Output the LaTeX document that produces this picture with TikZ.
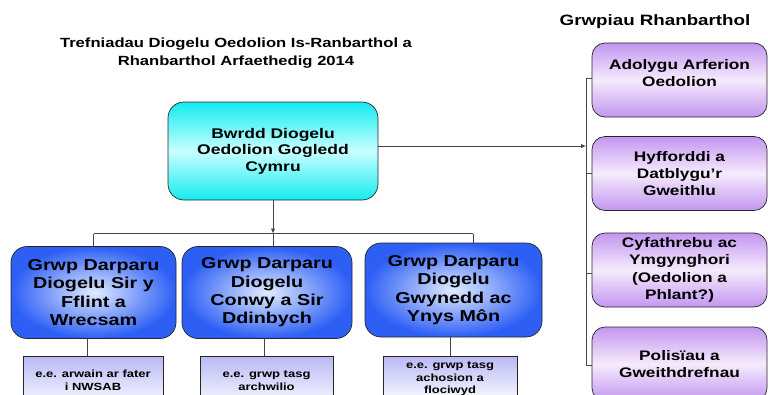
\documentclass[tikz,border=0pt]{standalone}
\usepackage{fontspec}
\setmainfont[FakeStretch=1.25]{Liberation Sans}
\usetikzlibrary{arrows.meta}
\definecolor{cyanA}{RGB}{20,235,240}
\definecolor{cyanB}{RGB}{200,255,255}
\definecolor{blueA}{RGB}{45,95,245}
\definecolor{blueB}{RGB}{225,235,255}
\definecolor{purA}{RGB}{195,150,240}
\definecolor{purB}{RGB}{245,235,252}
\definecolor{lavA}{RGB}{185,185,245}
\definecolor{lavB}{RGB}{245,245,255}
\definecolor{linegray}{RGB}{70,70,70}
\tikzset{
  boxline/.style={draw=black!85, line width=0.7pt},
  topbox/.style={boxline, rounded corners=16pt, top color=cyanA, bottom color=cyanA, middle color=cyanB,
    minimum width=210pt, minimum height=98pt, align=center,
    font=\bfseries\fontsize{14}{16.5}\selectfont},
  bluebox/.style={boxline, rounded corners=16pt, inner color=blueB, outer color=blueA,
    minimum height=92pt, align=center,
    font=\bfseries\fontsize{15.8}{18.3}\selectfont},
  purbox/.style={boxline, rounded corners=13pt, top color=purA, bottom color=purA, middle color=purB,
    minimum width=175pt, minimum height=74pt, align=center,
    font=\bfseries\fontsize{13.8}{17.3}\selectfont},
  smallbox/.style={boxline, top color=lavA, bottom color=lavB,
    minimum height=46pt, align=center, anchor=north, text depth=0pt,
    font=\bfseries\fontsize{10.4}{13}\selectfont},
  conn/.style={draw=linegray, line width=0.8pt},
  arr/.style={conn, -{Latex[length=5pt,width=4.5pt]}},
  titletext/.style={align=center, font=\bfseries\fontsize{13.3}{18}\selectfont},
}
\begin{document}
\begin{tikzpicture}[x=1pt,y=-1pt]
\useasboundingbox[fill=white] (0,0) rectangle (768,394);

% titles
\node[titletext] (title) at (236,53) {Trefniadau Diogelu Oedolion Is-Ranbarthol a\\Rhanbarthol Arfaethedig 2014};
\node[titletext, font=\bfseries\fontsize{15}{18}\selectfont] (rtitle) at (655,22) {Grwpiau Rhanbarthol};

% top box
\node[topbox] (top) at (273,151) {Bwrdd Diogelu\\Oedolion Gogledd\\Cymru};

% blue boxes
\node[bluebox, minimum width=165pt] (A) at (93.5,292.5) {Grwp Darparu\\Diogelu Sir y\\Fflint a\\Wrecsam};
\node[bluebox, minimum width=170pt] (B) at (267,292.5) {Grwp Darparu\\Diogelu\\Conwy a Sir\\Ddinbych};
\node[bluebox, minimum width=177pt, minimum height=94pt] (C) at (453.5,290) {Grwp Darparu\\Diogelu\\Gwynedd ac\\Ynys Môn};

% small boxes
\node[smallbox, minimum width=140pt] (a) at (93,356) {\rule{0pt}{10pt}e.e. arwain ar fater\\i NWSAB};
\node[smallbox, minimum width=133pt] (b) at (266.5,356) {\rule{0pt}{10pt}e.e. grwp tasg\\archwilio};
\node[smallbox, minimum width=134pt, minimum height=41pt, inner ysep=0pt, font=\bfseries\fontsize{10.4}{12.6}\selectfont] (c) at (450,356) {\rule{0pt}{8.5pt}e.e. grwp tasg\\achosion a\\flociwyd};

% right boxes
\node[purbox, text depth=14pt] (R1) at (679.5,80) {Adolygu Arferion\\Oedolion};
\node[purbox] (R2) at (679.5,173.5) {Hyfforddi a\\Datblygu’r\\Gweithlu};
\node[purbox] (R3) at (679.5,270) {Cyfathrebu ac\\Ymgynghori\\(Oedolion a\\Phlant?)};
\node[purbox] (R4) at (679.5,364) {Polisïau a\\Gweithdrefnau};

% connectors: top to blue boxes
\coordinate (hL) at (93.5,233.5);
\coordinate (hR) at (473,233.5);
\draw[conn] (hL) -- (hR);
\draw[arr] (top.south) -- (top.south |- hL);
\draw[conn] (hL) -- (A.north);
\draw[conn] (top.south |- hL) -- (B.north -| top.south);
\draw[conn] (hR) -- (hR |- C.north);

% blue to small
\draw[conn] ([xshift=-6pt]A.south) -- ([xshift=-6pt]A.south |- a.north);
\draw[conn] ([xshift=-3pt]B.south) -- ([xshift=-3pt]B.south |- b.north);
\draw[conn] (c.north |- C.south) -- (c.north);

% right side
\coordinate (vx) at (586,0);
\draw[arr] ([yshift=5pt]top.east) -- ([yshift=5pt]top.east -| vx);
\draw[conn] ([yshift=2pt]R1.west) -- ([yshift=2pt]R1.west -| vx) -- ([yshift=-1pt]R4.west -| vx) -- ([yshift=-1pt]R4.west);
\draw[conn] (R2.west -| vx) -- (R2.west);
\draw[conn] ([yshift=-3pt]R3.west -| vx) -- ([yshift=-3pt]R3.west);
\end{tikzpicture}
\end{document}
